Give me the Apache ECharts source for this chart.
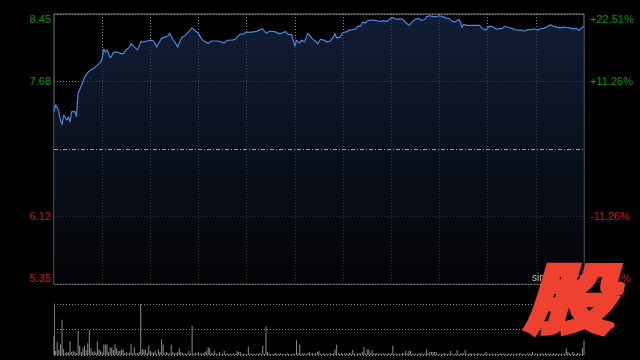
<!DOCTYPE html>
<html>
<head>
<meta charset="utf-8">
<script src="https://cdn.jsdelivr.net/npm/echarts@6/dist/echarts.min.js"></script>
<style>
html,body{margin:0;padding:0;background:#000;}
#chart{width:640px;height:360px;}
</style>
</head>
<body>
<div id="chart"></div>
<script>
// ---- data ----
const prevClose = 6.90;
const priceMin = 5.35;
const priceMax = 8.45;
const leftLabels = ['5.35', '6.12', '', '7.68', '8.45'];
const rightLabels = ['-22.51%', '-11.26%', '', '+11.26%', '+22.51%'];

const price = [
7.33,7.41,7.43,7.33,7.23,7.18,7.29,7.29,7.23,7.27,
7.21,7.33,7.31,7.33,7.27,7.54,7.58,7.59,7.67,7.72,
7.74,7.78,7.80,7.81,7.81,7.83,7.82,7.86,7.875,7.90,
7.94,8.05,8.01,8.04,8.00,7.945,7.97,8.01,8.025,8.015,
8.00,8.00,7.99,7.99,8.01,8.04,8.06,8.07,8.11,8.11,
8.07,8.06,8.04,8.08,8.13,8.12,8.13,8.13,8.14,8.14,
8.15,8.16,8.14,8.12,8.07,8.11,8.14,8.17,8.18,8.185,
8.19,8.20,8.23,8.25,8.16,8.14,8.105,8.07,8.06,8.16,
8.185,8.20,8.21,8.23,8.25,8.27,8.29,8.28,8.255,8.24,
8.23,8.19,8.16,8.145,8.13,8.115,8.115,8.12,8.14,8.145,
8.14,8.14,8.14,8.145,8.13,8.11,8.115,8.14,8.15,8.15,
8.15,8.15,8.155,8.16,8.185,8.20,8.22,8.225,8.22,8.23,
8.245,8.245,8.24,8.23,8.245,8.25,8.25,8.25,8.265,8.28,
8.28,8.255,8.23,8.245,8.25,8.255,8.25,8.25,8.245,8.23,
8.225,8.225,8.23,8.24,8.25,8.24,8.215,8.215,8.21,8.19,
8.08,8.15,8.15,8.115,8.15,8.14,8.13,8.15,8.23,8.22,
8.185,8.16,8.15,8.135,8.105,8.12,8.16,8.155,8.15,8.14,
8.13,8.12,8.14,8.16,8.185,8.225,8.175,8.17,8.185,8.215,
8.24,8.245,8.245,8.25,8.265,8.28,8.27,8.265,8.28,8.31,
8.30,8.31,8.36,8.36,8.345,8.37,8.38,8.38,8.39,8.38,
8.375,8.375,8.37,8.365,8.365,8.37,8.37,8.365,8.35,8.39,
8.40,8.41,8.39,8.39,8.39,8.395,8.39,8.39,8.38,8.35,
8.33,8.32,8.32,8.36,8.38,8.39,8.40,8.40,8.39,8.375,
8.36,8.39,8.42,8.43,8.43,8.43,8.42,8.42,8.42,8.43,
8.43,8.44,8.42,8.41,8.405,8.405,8.40,8.38,8.365,8.36,
8.36,8.375,8.39,8.36,8.295,8.33,8.33,8.32,8.32,8.32,
8.31,8.32,8.335,8.32,8.32,8.32,8.30,8.28,8.27,8.265,
8.28,8.31,8.31,8.305,8.29,8.28,8.28,8.28,8.285,8.285,
8.30,8.31,8.305,8.295,8.29,8.285,8.28,8.27,8.27,8.265,
8.27,8.265,8.26,8.255,8.26,8.27,8.27,8.27,8.28,8.28,
8.285,8.265,8.27,8.28,8.285,8.285,8.295,8.305,8.32,8.325,
8.32,8.31,8.305,8.30,8.30,8.29,8.27,8.30,8.31,8.295,
8.285,8.29,8.285,8.28,8.27,8.285,8.285,8.26,8.285,8.30,8.31
];

const volume = [
37,8,25,10,21,69,12,4,6,5,
27,6,8,6,4,47,18,6,13,18,
10,23,49,13,6,8,5,27,11,8,
5,21,20,21,6,15,14,10,21,13,
8,8,11,11,4,6,3,5,22,4,
15,3,4,6,100,11,11,10,4,18,
8,5,5,8,3,11,6,31,20,3,
6,4,3,20,6,3,4,6,13,6,
4,3,3,3,8,3,57,3,5,3,
6,2,4,3,6,8,15,13,4,3,
8,3,2,6,2,3,8,2,3,2,
3,2,3,2,8,6,6,2,3,2,
2,16,3,2,3,2,3,2,3,2,
18,2,56,6,3,2,2,2,4,2,
2,3,2,2,2,3,2,2,2,3,
2,29,4,20,2,4,3,2,4,6,
2,4,2,3,6,8,3,2,4,2,
3,2,4,3,3,11,20,3,2,4,
2,3,3,2,4,3,10,3,2,3,
4,3,6,16,3,11,11,4,10,3,
3,4,2,3,2,4,3,2,4,3,
3,18,2,3,2,3,2,4,3,8,
3,8,8,3,2,3,2,3,4,3,
2,3,11,3,6,6,6,6,6,3,
2,3,2,4,3,2,3,8,3,2,
3,10,2,3,4,3,10,3,2,4,
3,2,3,2,4,2,3,2,3,6,
2,3,2,3,2,3,2,2,3,2,
3,2,2,3,2,3,2,2,3,2,
4,2,3,2,2,3,2,3,6,2,
3,2,2,3,4,2,3,2,3,2,
2,4,2,3,2,2,3,2,3,13,
6,3,2,6,3,2,4,3,2,13,29
];

// time categories (HK session, one per minute)
const times = [];
for (let m = 9*60+30; m < 12*60; m++) times.push(String(Math.floor(m/60)).padStart(2,'0') + ':' + String(m%60).padStart(2,'0'));
for (let m = 13*60; m <= 16*60 && times.length < price.length; m++) times.push(String(Math.floor(m/60)).padStart(2,'0') + ':' + String(m%60).padStart(2,'0'));

const GREEN = '#0a9a0a';
const RED = '#d81414';
const labelColor = (v, i) => (i >= 3 ? GREEN : RED);

const chart = echarts.init(document.getElementById('chart'), null, {renderer: 'canvas'});
const dotted = {color: '#8a8a8a', type: [1, 2], width: 1};

chart.setOption({
  backgroundColor: '#000',
  animation: false,
  grid: [
    {left: 54, right: 56, top: 14, bottom: 76, show: true, borderColor: '#7a7a7a', borderWidth: 1, backgroundColor: 'transparent'},
    {left: 54, right: 56, top: 304, height: 51}
  ],
  xAxis: [
    {type: 'category', gridIndex: 0, data: times, boundaryGap: false,
     axisLine: {show: false}, axisTick: {show: false}, axisLabel: {show: false},
     splitLine: {show: true, interval: (i) => i % 30 === 0 && i > 0 && i < price.length - 1, lineStyle: dotted}},
    {type: 'category', gridIndex: 1, data: times, boundaryGap: false,
     axisLine: {show: false}, axisTick: {show: false}, axisLabel: {show: false}, splitLine: {show: false}}
  ],
  yAxis: [
    {type: 'value', gridIndex: 0, min: priceMin, max: priceMax, interval: (priceMax - priceMin) / 4, position: 'left',
     axisLine: {show: false}, axisTick: {show: false},
     axisLabel: {formatter: (v, i) => leftLabels[i], color: labelColor, fontSize: 11, margin: 3,
       fontFamily: 'Liberation Sans, Arial, sans-serif', verticalAlignMinLabel: 'bottom', verticalAlignMaxLabel: 'top'},
     splitLine: {show: true, lineStyle: dotted}},
    {type: 'value', gridIndex: 0, min: priceMin, max: priceMax, interval: (priceMax - priceMin) / 4, position: 'right',
     axisLine: {show: false}, axisTick: {show: false},
     axisLabel: {formatter: (v, i) => rightLabels[i], color: labelColor, fontSize: 11, margin: 6,
       fontFamily: 'Liberation Sans, Arial, sans-serif', verticalAlignMinLabel: 'bottom', verticalAlignMaxLabel: 'top'},
     splitLine: {show: false}},
    {type: 'value', gridIndex: 1, min: 0, max: 100, interval: 50,
     axisLine: {show: true, lineStyle: {color: '#7a7a7a'}}, axisTick: {show: false}, axisLabel: {show: false},
     splitLine: {show: true, lineStyle: dotted}}
  ],
  series: [
    {type: 'line', xAxisIndex: 0, yAxisIndex: 0, data: price, symbol: 'none', smooth: false,
     lineStyle: {color: '#4a86e2', width: 1.2},
     areaStyle: {color: new echarts.graphic.LinearGradient(0, 0, 0, 1, [
       {offset: 0, color: '#182a4c'}, {offset: 1, color: '#040507'}])},
     markLine: {silent: true, symbol: 'none', label: {show: false},
       lineStyle: {color: '#9aa0aa', type: [4, 2, 1, 2], width: 1},
       data: [{yAxis: prevClose}]}},
    {type: 'bar', xAxisIndex: 1, yAxisIndex: 2, data: volume, barWidth: 1,
     itemStyle: {color: '#8c8c8c'}}
  ],
  graphic: [
    {type: 'text', left: 532, top: 273, z: 10,
     style: {text: 'sina.com.cn', fill: '#bbbbbb', font: '10px "Liberation Sans", Arial, sans-serif'}},
    {type: 'text', x: 524, y: 260, z: 20, scaleY: 0.84,
     style: {text: '股', fill: '#ee4130', stroke: '#ee4130', lineWidth: 5, lineJoin: 'miter',
       font: 'italic 900 90px "Noto Sans CJK SC", sans-serif'}}
  ]
});
</script>
</body>
</html>
